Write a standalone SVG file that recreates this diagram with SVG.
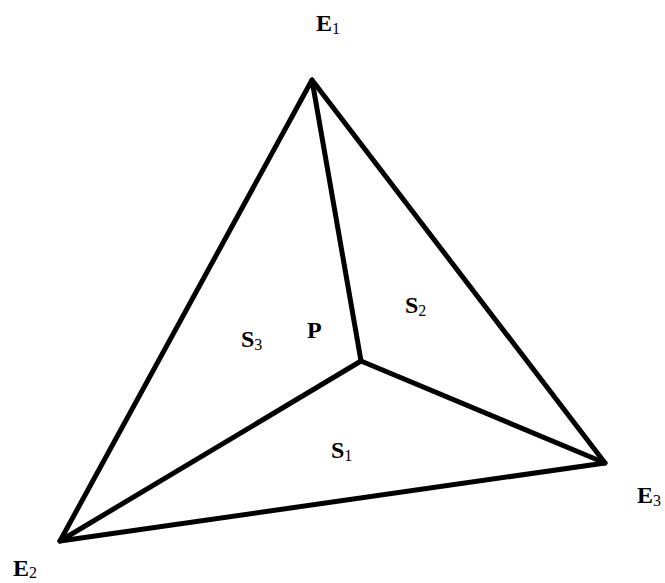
<svg xmlns="http://www.w3.org/2000/svg" width="665" height="583" viewBox="0 0 665 583">
<style>
.e{stroke:#000;stroke-width:5;stroke-linecap:round;stroke-linejoin:round;fill:none}
.t{font-family:"Liberation Serif",serif;font-size:24px;font-weight:bold;fill:#000}
.s{font-size:16px;font-weight:normal}
</style>
<rect width="665" height="583" fill="#fff"/>
<g id="connectors">
<polygon class="e" points="312,80 60,541 605,463"/>
<line class="e" x1="312" y1="80" x2="361" y2="361"/>
<line class="e" x1="60" y1="541" x2="361" y2="361"/>
<line class="e" x1="605" y1="463" x2="361" y2="361"/>
</g>
<g id="E1"><text class="t" x="316" y="31">E<tspan class="s" dy="3">1</tspan></text></g>
<g id="E2"><text class="t" x="13" y="576">E<tspan class="s" dy="2">2</tspan></text></g>
<g id="E3"><text class="t" x="637" y="503">E<tspan class="s" dy="3">3</tspan></text></g>
<g id="P"><text class="t" x="307" y="338">P</text></g>
<g id="S1"><text class="t" x="331" y="458">S<tspan class="s" dy="3">1</tspan></text></g>
<g id="S2"><text class="t" x="405" y="313">S<tspan class="s" dy="3">2</tspan></text></g>
<g id="S3"><text class="t" x="241" y="347">S<tspan class="s" dy="3">3</tspan></text></g>
</svg>
